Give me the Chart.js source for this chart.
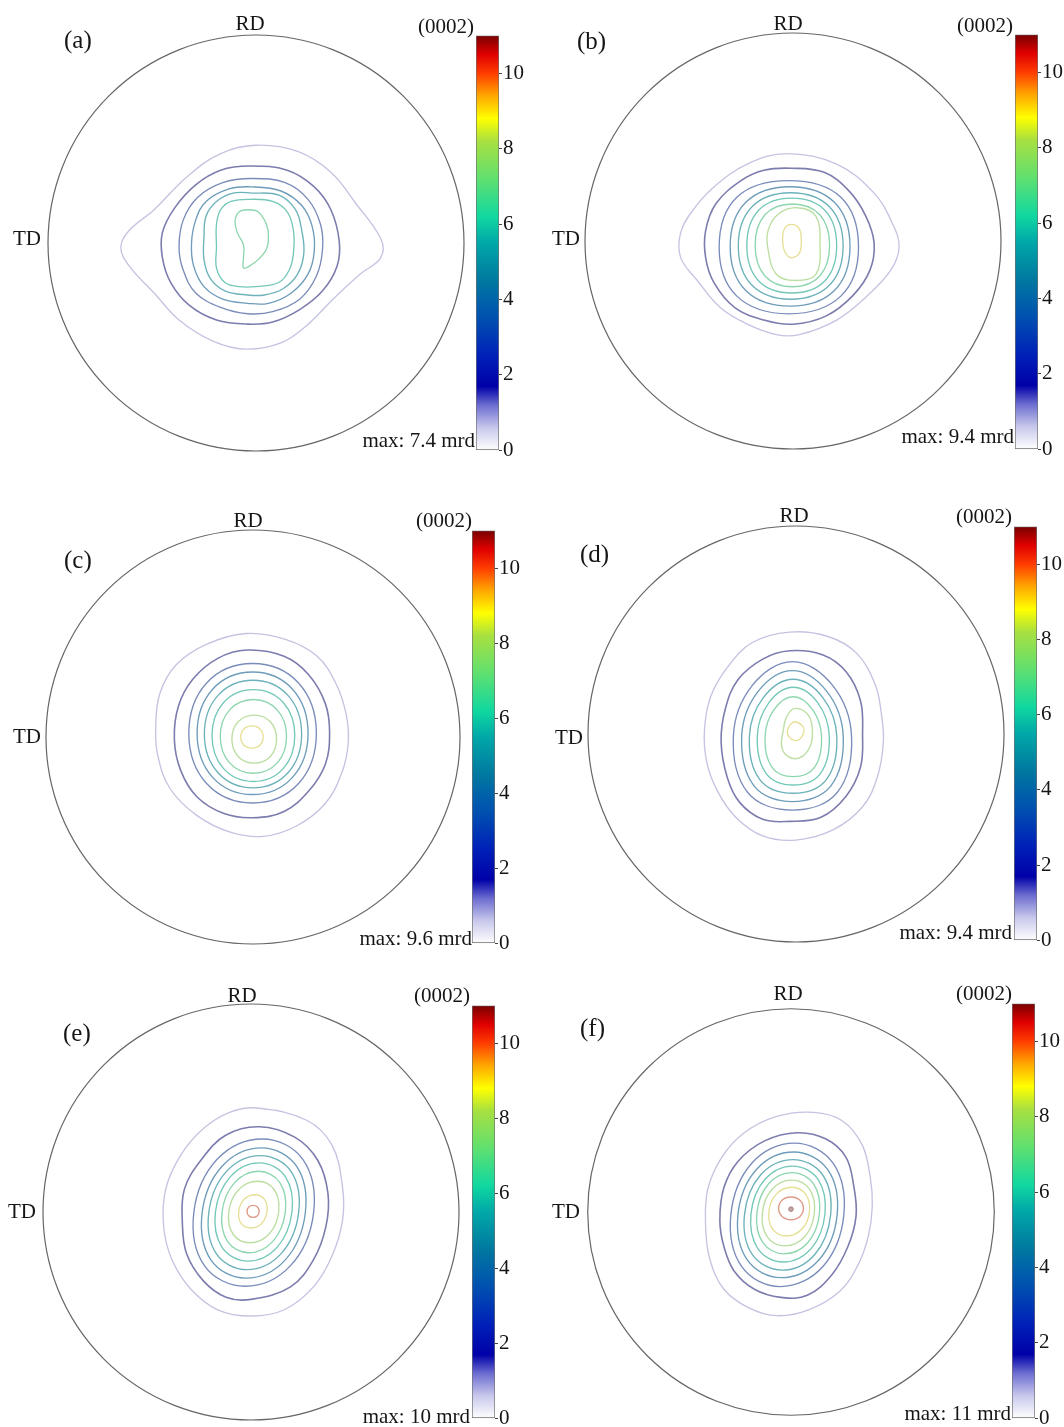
<!DOCTYPE html>
<html>
<head>
<meta charset="utf-8">
<title>(0002) pole figures</title>
<script src="https://cdn.jsdelivr.net/npm/chart.js"></script>
<style>
  body { margin: 0; background: #fff; }
  #fig { position: relative; width: 1064px; height: 1427px; overflow: hidden;
         font-family: "Liberation Serif", "Times New Roman", serif; color: #151515; }
  #fig canvas { position: absolute; }
  .lbl { position: absolute; white-space: nowrap; line-height: 1; font-size: 21px; }
  .tag { font-size: 25px; }
</style>
</head>
<body>
<div id="fig"></div>

<script>
// contour lines of the (0002) pole figures, in projection units (rim radius = 100)
// each panel: list of contours, contour level = index + 1 (mrd)
var panelNames = ['(a)', '(b)', '(c)', '(d)', '(e)', '(f)'];
var maxDensity = ['7.4', '9.4', '9.6', '9.4', '10', '11'];
var barTicks = [0, 2, 4, 6, 8, 10];
var barMax = 11;
var barStops  = [0, 0.6, 1.2, 1.7, 2.5, 3.5, 4.5, 5.5, 6.2, 7.2, 8.2, 8.8, 9.4, 10.0, 10.5, 11];
var barColors = ['#ffffff', '#c8c8ec', '#6c6cd0', '#0000a8', '#0020b8', '#0050b0', '#0078a0', '#00a8a8',
                 '#10d8a0', '#60e070', '#a8e040', '#ffff00', '#ffa800', '#ff3c00', '#e00000', '#780000'];
var levelColors = ['#c4c4e2', '#7c7cae', '#7a8cba', '#6e9cba', '#6cb2ba', '#74c8b8', '#8ed6ae',
                   '#bcdea2', '#e6e096', '#e09a88', '#b08080'];

var contoursA = [
  [[0,47],[20,44],[36,34],[48,19],[60,2],[60,-7],[50,-15],[37,-27],[24,-40],[12,-48],[-5,-51],[-21,-47],[-37,-37],[-49,-24],[-61,-11],[-65,-2],[-61,6],[-49,16],[-33,32],[-17,43]],
  [[-3,37],[15,35],[28,27],[36,16],[40,1],[39,-11],[32,-23],[21,-32],[8,-38],[-4,-39],[-19,-37],[-32,-30],[-41,-19],[-45,-7],[-45,5],[-39,17],[-29,28],[-17,35]],
  [[-2,31],[14,29],[25,21],[31,9],[32,-3],[29,-16],[21,-27],[8,-33],[-4,-34],[-17,-31],[-29,-24],[-35,-13],[-37,-2],[-35,11],[-28,22],[-16,29]],
  [[-2,27],[12,25],[22,18],[27,8],[28,-4],[25,-15],[17,-24],[6,-29],[-4,-29],[-16,-27],[-25,-21],[-30,-11],[-31,0],[-29,11],[-24,20],[-13,26]],
  [[-2,24],[11,23],[19,16],[22,6],[23,-5],[20,-15],[13,-22],[4,-25],[-4,-25],[-15,-23],[-22,-17],[-25,-8],[-25,3],[-24,13],[-19,20],[-11,24]],
  [[-3,21],[8,20],[15,15],[18,6],[18,-5],[16,-13],[11,-19],[0,-21],[-8,-21],[-15,-19],[-19,-12],[-19,-2],[-19,9],[-17,16],[-12,20]],
  [[-4,16],[1,15],[5,9],[6,3],[5,-3],[1,-8],[-3,-11],[-6,-12],[-6,-7],[-6,-1],[-9,5],[-10,11],[-8,15]]
];

var contoursB = [
  [[-3,42],[21,37],[39,23],[48,8],[51,-3],[47,-14],[35,-27],[21,-38],[3,-45],[-8,-45],[-22,-40],[-35,-32],[-46,-19],[-54,-8],[-54,4],[-48,15],[-38,26],[-22,37]],
  [[-1,35],[15,33],[27,24],[35,12],[39,-1],[37,-14],[29,-26],[16,-36],[0,-40],[-14,-38],[-28,-32],[-38,-20],[-42,-8],[-42,5],[-37,18],[-25,29],[-14,34]],
  [[-2,29],[23,21],[31.5,-3],[23,-26.5],[-2,-35],[-27,-26.5],[-35.5,-3],[-27,21]],
  [[-1.4,26.1],[19.9,18.6],[27.4,-2.6],[19.9,-23.8],[-1.4,-31.3],[-22.7,-23.8],[-30.2,-2.6],[-22.7,18.6]],
  [[-1.1,23.2],[17.5,16.5],[24.1,-2.4],[17.5,-21.3],[-1.1,-28],[-19.7,-21.3],[-26.3,-2.4],[-19.7,16.5]],
  [[-0.6,20.6],[15.4,14.7],[21,-2.2],[15.4,-19.1],[-0.6,-25],[-16.6,-19.1],[-22.2,-2.2],[-16.6,14.7]],
  [[-0.3,17.8],[12.9,12.6],[17.6,-2.1],[12.9,-16.8],[-0.3,-22],[-13.5,-16.8],[-18.2,-2.1],[-13.5,12.6]],
  [[2,16],[11,12],[13,-2],[11,-16],[1,-19],[-8,-16],[-12,-4],[-12,5],[-7,13]],
  [[-1,8],[3,6],[4,0],[3,-6],[-1,-8],[-4,-5],[-5,1],[-4,6]]
];

var contoursC = [
  [[-3,50],[16,47],[31,39],[40,26],[45,11],[46,-3],[43,-17],[35,-32],[21,-43],[5,-48],[-11,-46],[-27,-38],[-40,-25],[-46,-9],[-47,5],[-45,21],[-37,35],[-22,45]],
  [[-3,42],[15,39],[27,30],[35,16],[37,2],[35,-13],[27,-26],[15,-36],[0,-39],[-14,-37],[-27,-29],[-35,-16],[-38,-1],[-36,15],[-29,28],[-17,38]],
  [[-0.2,35.5],[22,26.1],[30.6,1.8],[22,-22.5],[-0.2,-31.9],[-22.4,-22.5],[-31,1.8],[-22.4,26.1]],
  [[-0.2,31.4],[19.1,23.1],[26.6,1.8],[19.1,-19.5],[-0.2,-27.8],[-19.5,-19.5],[-27,1.8],[-19.5,23.1]],
  [[0,27.4],[16.9,20.1],[23.5,1.4],[16.9,-17.3],[0,-24.6],[-16.9,-17.3],[-23.5,1.4],[-16.9,20.1]],
  [[0.2,22.9],[14.6,16.7],[20.2,0.7],[14.6,-15.3],[0.2,-21.5],[-14.2,-15.3],[-19.8,0.7],[-14.2,16.7]],
  [[0.2,18.1],[11.7,13.1],[16.2,0.3],[11.7,-12.5],[0.2,-17.5],[-11.3,-12.5],[-15.8,0.3],[-11.3,13.1]],
  [[0.6,10.6],[8.4,7.4],[11.4,-1],[8.4,-9.4],[0.6,-12.6],[-7.2,-9.4],[-10.2,-1],[-7.2,7.4]],
  [[-0.5,5.4],[3.4,3.9],[4.9,0],[3.4,-3.9],[-0.5,-5.4],[-4.4,-3.9],[-5.9,0],[-4.4,3.9]]
];

var contoursD = [
  [[-3,49],[15,47],[29,39],[38,24],[41,10],[42,-4],[39,-21],[32,-35],[18,-46],[0,-51],[-16,-49],[-29,-40],[-38,-27],[-43,-13],[-44,2],[-41,18],[-33,32],[-21,44]],
  [[-3,40],[13,38],[24,30],[31,16],[32,0],[31,-16],[24,-30],[12,-40],[-3,-42],[-16,-41],[-27,-33],[-33,-21],[-36,-4],[-34,12],[-28,26],[-16,36]],
  [[-1.7,34.8],[17.6,23.4],[26.7,-0.9],[19.9,-28],[-1.7,-36.6],[-23.3,-28],[-30.1,-0.9],[-21,23.4]],
  [[-1.7,30.5],[14.9,20.4],[22.7,-1],[16.8,-24.9],[-1.7,-32.5],[-20.2,-24.9],[-26.1,-1],[-18.3,20.4]],
  [[-1.4,26.3],[12.9,17.5],[19.6,-1.1],[14.6,-21.9],[-1.4,-28.5],[-17.4,-21.9],[-22.4,-1.1],[-15.7,17.5]],
  [[-1.3,22.5],[10.5,15],[16,-1],[11.8,-18.9],[-1.3,-24.5],[-14.4,-18.9],[-18.6,-1],[-13.1,15]],
  [[-1.3,17.9],[7.9,11.8],[12.3,-1.3],[9,-15.9],[-1.3,-20.5],[-11.6,-15.9],[-14.9,-1.3],[-10.5,11.8]],
  [[-0.5,12.3],[5.9,9.1],[7.9,1.9],[6.7,-6.1],[1.9,-11.4],[-3.7,-10.9],[-6.9,-6.1],[-6.1,1.9],[-4.5,8.3]],
  [[-0.5,5.9],[3.2,3.8],[3.8,1.1],[2.2,-2.1],[-0.5,-3.2],[-3.2,-1.6],[-4.2,1.4],[-2.9,4.3]]
];

var contoursE = [
  [[3,50],[27,44],[39,32],[44,12],[44,-4],[39,-21],[30,-36],[16,-47],[0,-50],[-16,-47],[-29,-37],[-38,-23],[-42,-7],[-41,11],[-34,27],[-23,40],[-10,48]],
  [[4,41],[21,36],[32,25],[37,9],[36,-7],[30,-23],[19,-36],[0,-42],[-12,-41],[-23,-33],[-31,-20],[-33,-5],[-32,11],[-24,25],[-12,37]],
  [[5.5,35.1],[25,25.2],[30.1,-0.3],[19,-25.8],[-2.9,-35.7],[-22.4,-25.8],[-27.5,-0.3],[-16.4,25.2]],
  [[5.1,30.8],[21.9,22],[26.1,-0.5],[16.5,-23],[-2.5,-31.8],[-19.3,-23],[-23.5,-0.5],[-13.9,22]],
  [[4.6,27.1],[19.3,19.4],[22.9,-0.3],[14.5,-20],[-2,-27.7],[-16.7,-20],[-20.3,-0.3],[-11.9,19.4]],
  [[4.1,23.6],[16.5,17],[19.7,0],[12.5,-17],[-1.5,-23.6],[-13.9,-17],[-17.1,0],[-9.9,17]],
  [[3.7,19.6],[13.9,14.1],[16.5,0],[10.5,-14.1],[-1.1,-19.6],[-11.3,-14.1],[-13.9,0],[-7.9,14.1]],
  [[3.1,14.8],[11.2,10.7],[13.3,0],[8.6,-10.7],[-0.5,-14.8],[-8.6,-10.7],[-10.7,0],[-6,10.7]],
  [[1.9,8.3],[6.5,6.1],[7.7,0.3],[5.1,-5.5],[-0.1,-7.7],[-4.7,-5.5],[-5.9,0.3],[-3.3,6.1]],
  [[1,3.2],[3.1,2.4],[3.9,0.3],[3.1,-1.8],[1,-2.6],[-1.1,-1.8],[-1.9,0.3],[-1.1,2.4]]
];

var contoursF = [
  [[11,49],[25,45],[35,33],[39,17],[40,3],[38,-12],[33,-26],[24,-39],[9,-48],[-7,-51],[-21,-47],[-33,-38],[-40,-23],[-42,-7],[-41,11],[-34,27],[-23,39],[-7,47]],
  [[3,39],[17,36],[27,27],[31,12],[32,-2],[28,-17],[20,-31],[8,-41],[-5,-42],[-18,-38],[-28,-29],[-33,-17],[-35,-4],[-33,12],[-26,25],[-13,35]],
  [[1.7,33.9],[20.7,24],[26,-1.4],[15.7,-26.8],[-5.3,-36.7],[-24.3,-26.8],[-29.6,-1.4],[-19.3,24]],
  [[1.4,29.5],[18.1,20.8],[22.7,-1.4],[13.7,-23.6],[-4.8,-32.3],[-21.5,-23.6],[-26.1,-1.4],[-17.1,20.8]],
  [[1,25.8],[15.6,18.2],[19.5,-1.4],[11.6,-21],[-4.4,-28.6],[-19,-21],[-22.9,-1.4],[-15,18.2]],
  [[0.9,22.6],[13.3,16],[16.7,-1],[9.9,-18],[-3.9,-24.6],[-16.3,-18],[-19.7,-1],[-12.9,16]],
  [[0.6,19.4],[11.1,13.8],[14,-0.6],[8.3,-15],[-3.4,-20.6],[-13.9,-15],[-16.8,-0.6],[-11.1,13.8]],
  [[0.3,15.7],[9.1,11.2],[11.5,-0.5],[6.7,-12.2],[-2.9,-16.7],[-11.7,-12.2],[-14.1,-0.5],[-9.3,11.2]],
  [[0.3,12.2],[7.2,8.8],[9.1,0.2],[5.4,-8.4],[-2.1,-11.8],[-9,-8.4],[-10.9,0.2],[-7.2,8.8]],
  [[0,7.4],[4.4,5.8],[6.1,1.8],[4.4,-2.2],[0,-3.8],[-4.4,-2.2],[-6.1,1.8],[-4.4,5.8]],
  [[0,1.4]]
];

var allContours = [contoursA, contoursB, contoursC, contoursD, contoursE, contoursF];

// page layout of the six panels (pixels)
var layout = [
  {cx: 256, cy: 243,  r: 208, bar: [476, 34, 23, 418],   rd: [250, 23],  td: [41, 238],   tag: [64, 39],   hkl: [474, 26],   max: [475, 440]},
  {cx: 793, cy: 241,  r: 208, bar: [1015, 33, 23, 418],  rd: [788, 23],  td: [580, 238],  tag: [577, 40],  hkl: [1013, 25],  max: [1014, 436]},
  {cx: 253, cy: 737,  r: 207, bar: [472, 529, 23, 416],  rd: [248, 520], td: [41, 736],   tag: [64, 559],  hkl: [472, 520],  max: [472, 938]},
  {cx: 796, cy: 734,  r: 208, bar: [1014, 525, 23, 417], rd: [794, 515], td: [583, 737],  tag: [580, 553], hkl: [1012, 516], max: [1012, 932]},
  {cx: 251, cy: 1212, r: 208, bar: [472, 1004, 23, 416], rd: [242, 995], td: [36, 1211],  tag: [63, 1032], hkl: [470, 995],  max: [470, 1416]},
  {cx: 791, cy: 1212, r: 208, bar: [1012, 1002, 23, 418],rd: [788, 993], td: [580, 1211], tag: [580, 1027],hkl: [1012, 993], max: [1011, 1413]}
];

var fig = document.getElementById('fig');
var FONT = '"Liberation Serif", "Times New Roman", serif';

function addCanvas(x, y, w, h) {
  var c = document.createElement('canvas');
  c.width = w; c.height = h;
  c.style.left = x + 'px'; c.style.top = y + 'px';
  c.style.width = w + 'px'; c.style.height = h + 'px';
  fig.appendChild(c);
  return c;
}

function addLabel(text, x, y, align, cls) {
  var d = document.createElement('div');
  d.className = 'lbl' + (cls ? ' ' + cls : '');
  d.textContent = text;
  d.style.left = x + 'px';
  d.style.top = y + 'px';
  var tx = align === 'center' ? '-50%' : (align === 'right' ? '-100%' : '0');
  d.style.transform = 'translate(' + tx + ',-50%)';
  fig.appendChild(d);
}

// closed contour: wrap one point each side so the spline joins smoothly,
// the two wrap segments are drawn transparent
function loopData(pts) {
  var n = pts.length;
  var seq = n > 2 ? [pts[n - 1]].concat(pts, [pts[0], pts[1]]) : pts;
  return seq.map(function (p) { return {x: p[0], y: p[1]}; });
}

var rimPlugin = {
  id: 'rim',
  beforeDatasetsDraw: function (chart) {
    var ctx = chart.ctx, xs = chart.scales.x, ys = chart.scales.y;
    var x0 = xs.getPixelForValue(0), y0 = ys.getPixelForValue(0);
    var rr = xs.getPixelForValue(100) - x0;
    ctx.save();
    ctx.beginPath();
    ctx.arc(x0, y0, rr, 0, Math.PI * 2);
    ctx.strokeStyle = '#666666';
    ctx.lineWidth = 1.2;
    ctx.stroke();
    ctx.restore();
  }
};

function drawPole(p, contours) {
  var S = 440;
  var L = 100 * (S / 2) / p.r;
  var cv = addCanvas(p.cx - S / 2, p.cy - S / 2, S, S);
  var datasets = contours.map(function (pts, i) {
    var data = loopData(pts);
    if (pts.length === 1) {
      return {data: data, showLine: false, pointRadius: 2.3, pointBorderWidth: 1,
              pointBackgroundColor: '#bca6a6', pointBorderColor: levelColors[i]};
    }
    var last = data.length - 1;
    return {
      data: data,
      showLine: true,
      fill: false,
      tension: 0.38,
      borderColor: levelColors[i],
      borderWidth: i === 1 ? 1.6 : 1.35,
      pointRadius: 0,
      segment: {
        borderColor: function (c) {
          return (c.p0DataIndex === 0 || c.p1DataIndex === last) ? 'rgba(0,0,0,0)' : undefined;
        }
      }
    };
  });
  new Chart(cv, {
    type: 'scatter',
    data: {datasets: datasets},
    options: {
      responsive: false,
      animation: false,
      events: [],
      layout: {padding: 0},
      plugins: {legend: {display: false}, tooltip: {enabled: false}},
      scales: {
        x: {type: 'linear', min: -L, max: L, display: false},
        y: {type: 'linear', min: -L, max: L, display: false}
      }
    },
    plugins: [rimPlugin]
  });
}

function drawBar(p) {
  var b = p.bar, pad = 12, axisW = 34;
  var cv = addCanvas(b[0], b[1] - pad, b[2] + axisW, b[3] + 2 * pad);
  new Chart(cv, {
    type: 'bar',
    data: {
      labels: [''],
      datasets: [{
        data: [barMax],
        barPercentage: 1,
        categoryPercentage: 1,
        borderWidth: 1,
        borderColor: '#707070',
        borderSkipped: false,
        backgroundColor: function (c) {
          var chart = c.chart;
          if (!chart.chartArea) return '#fff';
          var ys = chart.scales.y;
          var g = chart.ctx.createLinearGradient(0, ys.getPixelForValue(0), 0, ys.getPixelForValue(barMax));
          barStops.forEach(function (v, i) { g.addColorStop(v / barMax, barColors[i]); });
          return g;
        }
      }]
    },
    options: {
      responsive: false,
      animation: false,
      events: [],
      layout: {padding: {top: pad, bottom: pad, left: 0, right: 0}},
      plugins: {legend: {display: false}, tooltip: {enabled: false}},
      scales: {
        x: {display: false},
        y: {
          position: 'right',
          min: 0,
          max: barMax,
          afterBuildTicks: function (s) { s.ticks = barTicks.map(function (v) { return {value: v}; }); },
          afterFit: function (s) { s.width = axisW; },
          border: {display: false},
          grid: {drawOnChartArea: false, drawTicks: true, tickLength: 3, color: '#444'},
          ticks: {font: {family: FONT, size: 21}, color: '#151515', padding: 1}
        }
      }
    }
  });
}

layout.forEach(function (p, k) {
  drawPole(p, allContours[k]);
  drawBar(p);
  addLabel('RD', p.rd[0], p.rd[1], 'center');
  addLabel('TD', p.td[0], p.td[1], 'right');
  addLabel(panelNames[k], p.tag[0], p.tag[1], 'left', 'tag');
  addLabel('(0002)', p.hkl[0], p.hkl[1], 'right');
  addLabel('max: ' + maxDensity[k] + ' mrd', p.max[0], p.max[1], 'right');
});
</script>
</body>
</html>
